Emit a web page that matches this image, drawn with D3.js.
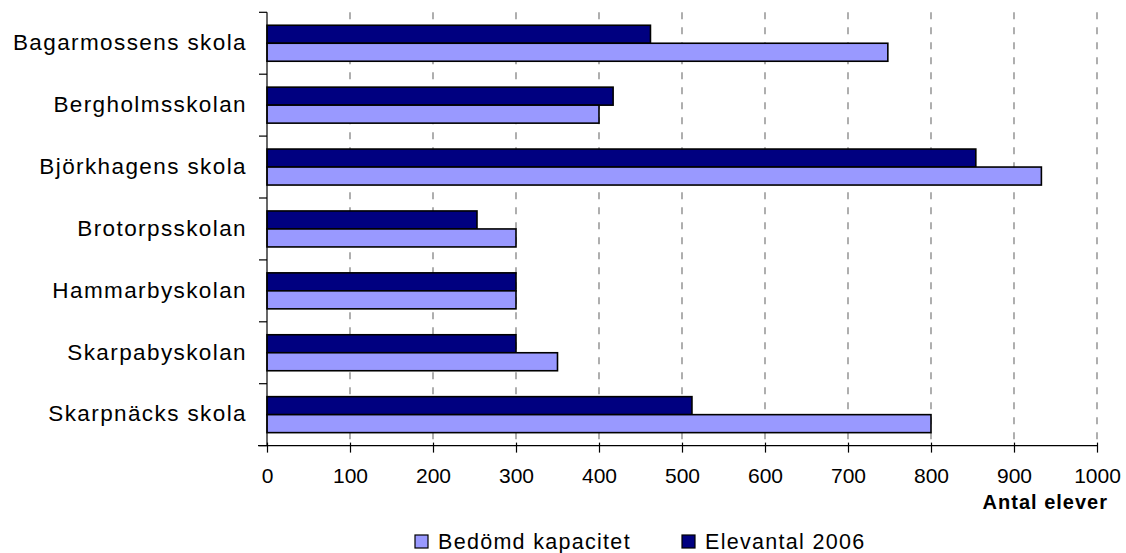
<!DOCTYPE html>
<html>
<head>
<meta charset="utf-8">
<script src="https://cdn.jsdelivr.net/npm/d3@7"></script>
<style>
  html, body { margin: 0; padding: 0; background: #fff; }
  svg { display: block; font-family: "Liberation Sans", Arial, sans-serif; }
</style>
</head>
<body>
<svg id="chart" width="1126" height="553"></svg>
<script>
// ---- data ----
const categories = ["Bagarmossens skola", "Bergholmsskolan", "Björkhagens skola", "Brotorpsskolan", "Hammarbyskolan", "Skarpabyskolan", "Skarpnäcks skola"];
const seriesNames = ["Bedömd kapacitet", "Elevantal 2006"];
const kapacitet = [748, 400, 933, 300, 300, 350, 800];
const elevantal = [462, 417, 854, 253, 300, 300, 512];
const xTicks = [0, 100, 200, 300, 400, 500, 600, 700, 800, 900, 1000];
const xTitle = "Antal elever";

(function () {
const colors = { "Bedömd kapacitet": "#9999FF", "Elevantal 2006": "#000080" };
const values = { "Bedömd kapacitet": kapacitet, "Elevantal 2006": elevantal };

const svg = d3.select("#chart");
const pLeft = 267, pRight = 1097, pTop = 12.3, pBottom = 445.6;

const x = d3.scaleLinear().domain([0, 1000]).range([pLeft, pRight]);
const y0 = d3.scaleBand().domain(categories).range([pTop, pBottom]).padding(0);
const barOrder = ["Elevantal 2006", "Bedömd kapacitet"];
const y1 = d3.scaleBand().domain(barOrder).range([0, y0.bandwidth()]).paddingInner(0).paddingOuter(0.72);

// gridlines
svg.append("g").selectAll("line").data(xTicks.filter(d => d > 0)).join("line")
  .attr("x1", d => x(d)).attr("x2", d => x(d))
  .attr("y1", pTop).attr("y2", pBottom)
  .attr("stroke", "#7a7a7a").attr("stroke-width", 1.2)
  .attr("stroke-dasharray", "7,8");

// bars
const rows = [];
categories.forEach((c, i) => barOrder.forEach(s => rows.push({ c, s, v: values[s][i] })));
svg.append("g").selectAll("rect").data(rows).join("rect")
  .attr("x", x(0))
  .attr("y", d => y0(d.c) + y1(d.s))
  .attr("width", d => x(d.v) - x(0))
  .attr("height", y1.bandwidth())
  .attr("fill", d => colors[d.s])
  .attr("stroke", "#000").attr("stroke-width", 1.6);

// y axis line and boundary ticks
const ya = svg.append("g");
ya.append("line").attr("x1", pLeft).attr("x2", pLeft).attr("y1", pTop).attr("y2", pBottom).attr("stroke", "#000").attr("stroke-width", 1.2);
const bounds = categories.map(c => y0(c)).concat([pBottom]);
ya.selectAll("line.t").data(bounds).join("line").attr("class", "t")
  .attr("x1", pLeft - 8).attr("x2", pLeft).attr("y1", d => d).attr("y2", d => d)
  .attr("stroke", "#000").attr("stroke-width", 1.2);
ya.selectAll("text").data(categories).join("text")
  .attr("x", 247).attr("y", d => y0(d) + y0.bandwidth() / 2)
  .attr("dy", "0.3em")
  .attr("text-anchor", "end")
  .attr("font-size", 22.5).attr("letter-spacing", 1.4)
  .attr("fill", "#000")
  .text(d => d);

// x axis
const xa = svg.append("g").attr("transform", `translate(0,${pBottom})`)
  .call(d3.axisBottom(x).tickValues(xTicks).tickFormat(d3.format("d")).tickSizeInner(7).tickSizeOuter(0).tickPadding(15));
xa.select(".domain").attr("d", `M${pLeft - 9},0H${pRight}`).attr("stroke", "#000").attr("stroke-width", 1.2);
xa.selectAll(".tick line").attr("stroke", "#000").attr("stroke-width", 1.2).attr("y1", -3);
xa.selectAll(".tick text").attr("font-size", 21).attr("font-family", "Liberation Sans, Arial, sans-serif").attr("fill", "#000");

// x title
svg.append("text").attr("x", 1108).attr("y", 509).attr("text-anchor", "end")
  .attr("font-size", 20).attr("font-weight", "bold").attr("letter-spacing", 1)
  .text(xTitle);

// legend
const legendX = [415, 682];
const lg = svg.append("g").selectAll("g").data(seriesNames).join("g")
  .attr("transform", (d, i) => `translate(${legendX[i]},535)`);
lg.append("rect").attr("width", 13).attr("height", 13)
  .attr("fill", d => colors[d]).attr("stroke", "#000").attr("stroke-width", 1.2);
lg.append("text").attr("x", 23).attr("y", 14)
  .attr("font-size", 21.5).attr("letter-spacing", 1.3).text(d => d);
})();
</script>
</body>
</html>
